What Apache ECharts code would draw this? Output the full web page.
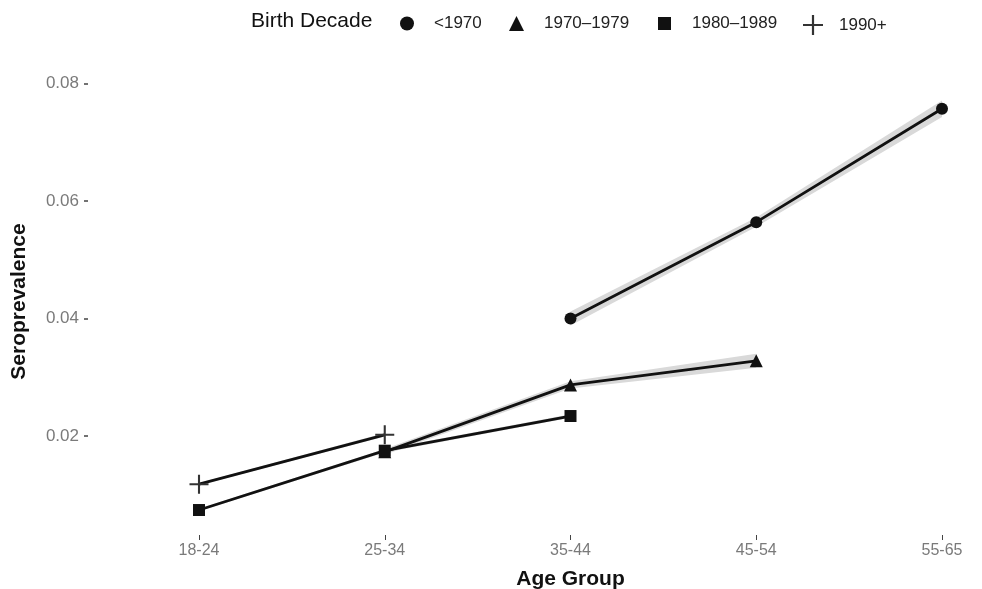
<!DOCTYPE html>
<html>
<head>
<meta charset="utf-8">
<script src="https://cdn.jsdelivr.net/npm/echarts@6/dist/echarts.min.js"></script>
<style>html,body{margin:0;padding:0;background:#fff}#c{width:982px;height:589px}</style>
</head>
<body>
<div id="c"></div>
<script>
const categories = ['18-24', '25-34', '35-44', '45-54', '55-65'];
const seriesNames = ['<1970', '1970\u20131979', '1980\u20131989', '1990+'];
const valsPre1970 = [null, null, 0.0400, 0.0564, 0.0757];
const vals1970s = [null, 0.0173, 0.0287, 0.0328, null];
const vals1980s = [0.0074, 0.0175, 0.0234, null, null];
const vals1990s = [0.0118, 0.0202, null, null, null];
const lowPre1970 = [null, null, 0.0388, 0.0556, 0.0743];
const highPre1970 = [null, null, 0.0412, 0.0572, 0.0771];
const low1970s = [null, 0.0168, 0.0281, 0.0316, null];
const high1970s = [null, 0.0178, 0.0293, 0.0340, null];
const low1980s = [0.0072, 0.0172, 0.0231, null, null];
const high1980s = [0.0076, 0.0178, 0.0237, null, null];
const low1990s = [0.0116, 0.0199, null, null, null];
const high1990s = [0.0120, 0.0205, null, null, null];
const yTicks = [0.02, 0.04, 0.06, 0.08];

const plusPath = 'path://M4.45,0h1.1v10h-1.1z M0,4.45h10v1.1h-10z';
const symbols = ['circle', 'triangle', 'rect', plusPath];
const symbolSizes = [12, 13, 12, 19];
const values = [valsPre1970, vals1970s, vals1980s, vals1990s];
const lows = [lowPre1970, low1970s, low1980s, low1990s];
const highs = [highPre1970, high1970s, high1980s, high1990s];

const FONT = 'Liberation Sans';
const toData = a => a.map(v => v == null ? '-' : v);
const series = [];
for (let i = 0; i < 4; i++) {
  series.push({
    type: 'line', stack: 'band' + i, data: toData(lows[i]), symbol: 'none',
    lineStyle: { opacity: 0 }, silent: true, z: 1
  });
  series.push({
    type: 'line', stack: 'band' + i,
    data: toData(highs[i].map((h, k) => h == null ? null : +(h - lows[i][k]).toFixed(6))),
    symbol: 'none', lineStyle: { opacity: 0 }, areaStyle: { color: '#d9d9d9', opacity: 1 },
    silent: true, z: 1
  });
}
for (let i = 0; i < 4; i++) {
  series.push({
    name: seriesNames[i], type: 'line', data: toData(values[i]),
    symbol: symbols[i], symbolSize: symbolSizes[i], showAllSymbol: true,
    lineStyle: { color: '#111', width: 2.8 }, itemStyle: { color: i === 3 ? '#333' : '#111' },
    z: 5
  });
}

const legendLefts = [395, 504, 653, 798];
const legendPads = [15, 15, 16, 11];
const legendSizes = [14, 15, 13, 20];
const legends = seriesNames.map((n, i) => ({
  data: [{ name: n, icon: symbols[i] }],
  left: legendLefts[i], top: 10,
  itemWidth: legendSizes[i], itemHeight: legendSizes[i],
  selectedMode: false,
  textStyle: { fontFamily: FONT, fontSize: 17, color: '#222', padding: [0, 0, 0, legendPads[i]] }
}));

const chart = echarts.init(document.getElementById('c'), null, { renderer: 'canvas' });
chart.setOption({
  animation: false,
  backgroundColor: '#fff',
  grid: { left: 199, right: 40, top: 60, bottom: 54, outerBoundsMode: 'none', containLabel: false },
  legend: legends,
  graphic: [{
    type: 'text', left: 251, top: 11,
    style: { text: 'Birth Decade', fontFamily: FONT, fontSize: 21, fill: '#111' }
  }],
  xAxis: {
    type: 'category', data: categories, boundaryGap: false,
    name: 'Age Group', nameLocation: 'middle', nameGap: 34,
    nameTextStyle: { fontFamily: FONT, fontSize: 21, fontWeight: 'bold', color: '#111' },
    axisLine: { show: false },
    axisTick: { show: true, length: 5, alignWithLabel: true, lineStyle: { color: '#444', width: 1 } },
    axisLabel: { fontFamily: FONT, fontSize: 16, color: '#7a7a7a', margin: 8 },
    splitLine: { show: false }
  },
  yAxis: {
    type: 'value', min: 0.00315, max: 0.0840, offset: 111,
    name: 'Seroprevalence', nameLocation: 'middle', nameGap: 58, nameRotate: 90,
    nameTextStyle: { fontFamily: FONT, fontSize: 21, fontWeight: 'bold', color: '#111', padding: [0, 8, 0, 0] },
    axisLine: { show: false },
    axisTick: { show: true, length: 4, customValues: yTicks, lineStyle: { color: '#444', width: 1.5 } },
    axisLabel: { fontFamily: FONT, fontSize: 17, color: '#7a7a7a', margin: 9,
      customValues: yTicks, formatter: v => v.toFixed(2) },
    splitLine: { show: false }
  },
  series: series
});
</script>
</body>
</html>
